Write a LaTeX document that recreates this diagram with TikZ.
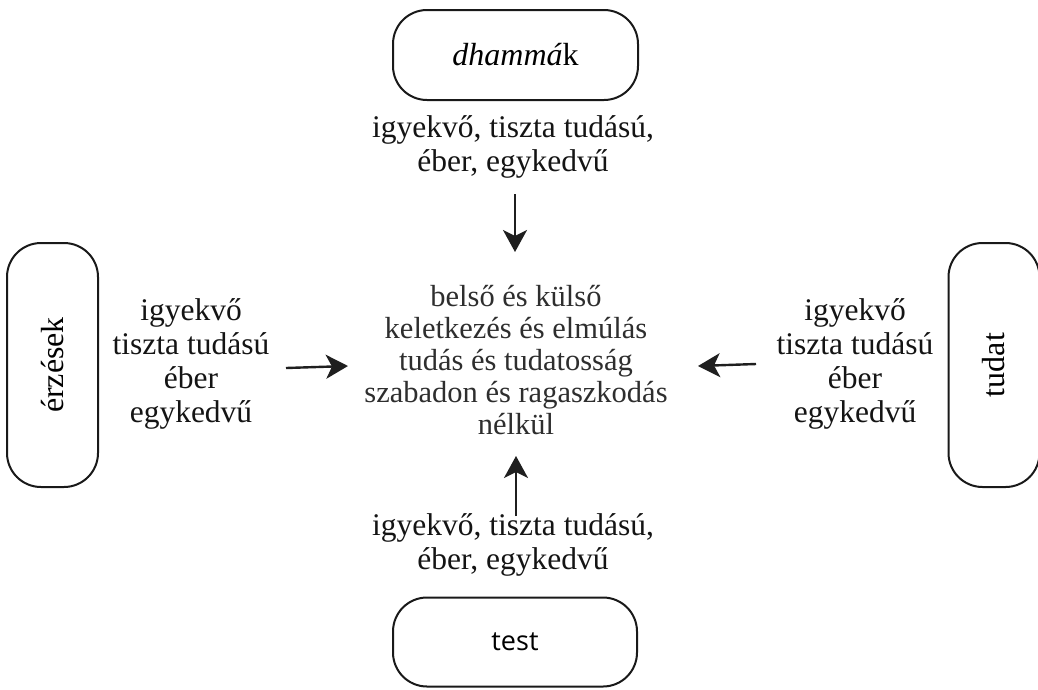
\documentclass[tikz,border=0pt]{standalone}
\usepackage{fontspec}
\setmainfont{Liberation Serif}
\newfontfamily\testfont{Open Sans}
\usetikzlibrary{arrows.meta}
\tikzset{
  box/.style={draw=black!90, line width=2pt, rounded corners=34pt, inner sep=0pt},
  lbl/.style={align=center, font=\fontsize{31.5}{34}\selectfont, text=black!92, inner sep=0pt},
  ctr/.style={align=center, font=\fontsize{30.5}{32}\selectfont, text=black!82, inner sep=0pt},
  arr/.style={line width=2.4pt, draw=black!88, -{Stealth[length=22pt,width=24pt,inset=6pt]}},
}
\begin{document}
\begin{tikzpicture}[x=1pt,y=-1pt]
\useasboundingbox (0,0) rectangle (1038,689);
% boxes
\node[box, minimum width=245pt, minimum height=90pt, font=\fontsize{32}{34}\selectfont] (dh) at (515.5,55) {\textit{dhammá}k};
\node[box, minimum width=244pt, minimum height=89pt, font=\testfont\fontsize{27}{30}\selectfont] (te) at (515,642) {test};
\node[box, minimum width=91pt, minimum height=244pt] (er) at (52.5,365) {};
\node[rotate=90, font=\fontsize{32}{34}\selectfont] at (er.center) {érzések};
\node[box, minimum width=91pt, minimum height=244pt] (tu) at (994,365) {};
\node[rotate=90, font=\fontsize{32}{34}\selectfont] at (tu.center) {tudat};
% labels
\node[lbl] (lt) at (513,147) {igyekvő, tiszta tudású,\\ éber, egykedvű};
\node[lbl] (lb) at (513,545) {igyekvő, tiszta tudású,\\ éber, egykedvű};
\node[lbl] (ll) at (191,364) {igyekvő\\ tiszta tudású\\ éber\\ egykedvű};
\node[lbl] (lr) at (855,364) {igyekvő\\ tiszta tudású\\ éber\\ egykedvű};
% centre
\node[ctr] (c) at (516,360) {belső és külső\\ keletkezés és elmúlás\\ tudás és tudatosság\\ szabadon és ragaszkodás\\ nélkül};
% arrows
\coordinate (t1) at (515,194);
\coordinate (t2) at (515,252);
\coordinate (b1) at (516,516);
\coordinate (b2) at (516,456);
\coordinate (l1) at (286,368);
\coordinate (l2) at (348,366);
\coordinate (r1) at (756,364);
\coordinate (r2) at (698,366);
\draw[arr] (t1) -- (t2);
\draw[arr] (b1) -- (b2);
\draw[arr] (l1) -- (l2);
\draw[arr] (r1) -- (r2);
\end{tikzpicture}
\end{document}
